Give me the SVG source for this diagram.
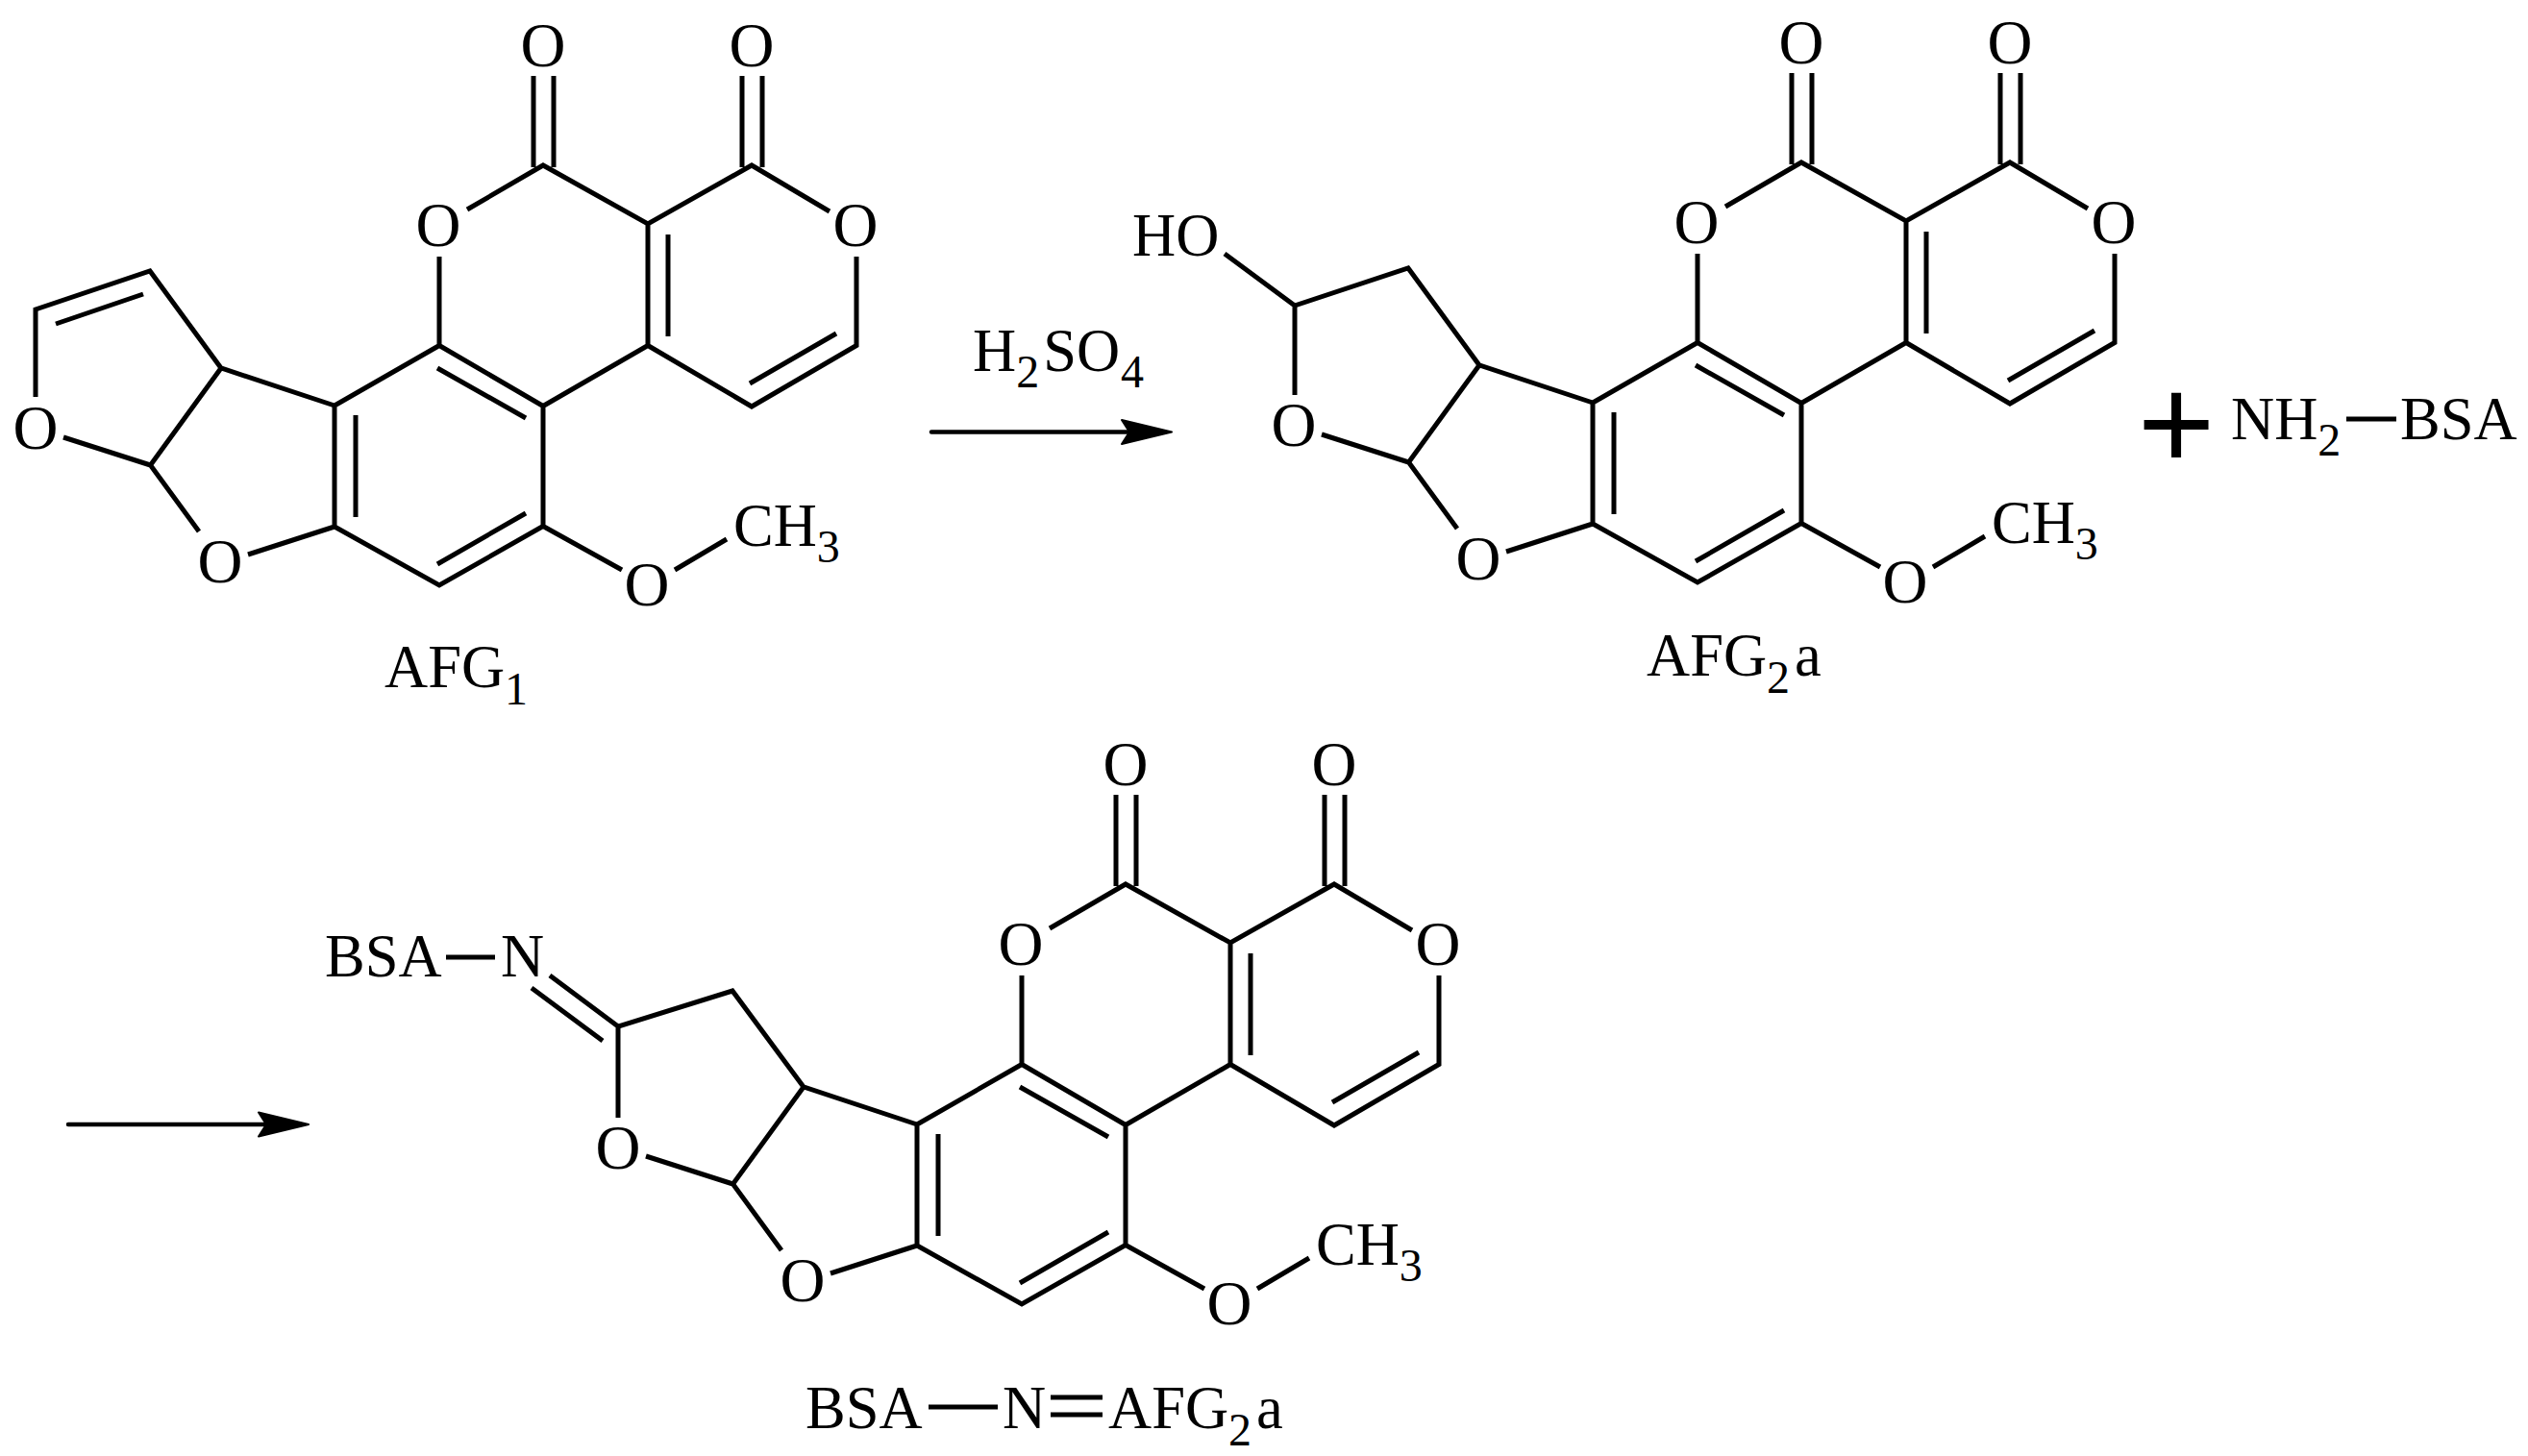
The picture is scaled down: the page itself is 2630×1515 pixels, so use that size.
<svg xmlns="http://www.w3.org/2000/svg" width="2630" height="1515" viewBox="0 0 2630 1515">
<style>
text{font-family:"Liberation Serif","Times New Roman",serif;font-size:62.500px;fill:#000}
.m{text-anchor:middle;font-size:65px}
.s{font-size:48px}
.b{fill:none;stroke:#000;stroke-width:5;stroke-linejoin:miter;stroke-linecap:butt}
.a{fill:none;stroke:#000;stroke-width:4.500;stroke-linecap:round}
</style>
<defs>
<marker id="ah" markerUnits="userSpaceOnUse" markerWidth="64" markerHeight="40" refX="34" refY="20" orient="auto">
<path d="M1 7.500L53 20L1 32.500L9 20Z" fill="#000" stroke="#000" stroke-width="2" stroke-linejoin="round"/>
</marker>
</defs>
<rect width="2630" height="1515" fill="#fff"/>

<g id="afg1">
<path class="b" d="M486 218L565 172L674 233L782 172L863 220M555 79V174M576 79V174M772 79V174M793 79V174M674 233V359.500L565 422.500M695 244V350M457 267V359.500L565 422.500M457 359.500L348 422V548L457 609L565 547.500V422.500M455 383L547 435M370 432V538M547 534L455 587M674 359.500L782 423L891 359.500V267M870 347L780 399M565 547.500L647 593M702 593L756 561M258 577L348 548M348 422L230 383L156.500 484L207 553M66 455L156.500 484M230 383L156 282L37 322V413M149 306L58 337"/>
<text class="m" x="565" y="69">O</text>
<text class="m" x="782" y="69">O</text>
<text class="m" x="456" y="256">O</text>
<text class="m" x="890" y="256">O</text>
<text class="m" x="37" y="467">O</text>
<text class="m" x="229" y="606">O</text>
<text class="m" x="673" y="630">O</text>
<text x="763" y="568">CH<tspan class="s" dy="17">3</tspan></text>
<text x="400" y="715">AFG<tspan class="s" dy="18">1</tspan></text>
</g>

<g id="afg2a" transform="translate(1309,-3)">
<path class="b" d="M486 218L565 172L674 233L782 172L863 220M555 79V174M576 79V174M772 79V174M793 79V174M674 233V359.500L565 422.500M695 244V350M457 267V359.500L565 422.500M457 359.500L348 422V548L457 609L565 547.500V422.500M455 383L547 435M370 432V538M547 534L455 587M674 359.500L782 423L891 359.500V267M870 347L780 399M565 547.500L647 593M702 593L756 561M258 577L348 548M348 422L230 383L156.500 484L207 553M66 455L156.500 484M230 383L156 282L38 321V414M-35 267L38 321"/>
<text class="m" x="565" y="69">O</text>
<text class="m" x="782" y="69">O</text>
<text class="m" x="456" y="256">O</text>
<text class="m" x="890" y="256">O</text>
<text class="m" x="37" y="467">O</text>
<text class="m" x="229" y="606">O</text>
<text class="m" x="673" y="630">O</text>
<text x="-131" y="269">HO</text>
<text x="763" y="568">CH<tspan class="s" dy="17">3</tspan></text>
<text x="404" y="706">AFG<tspan class="s" dy="18">2</tspan><tspan dy="-18" dx="5">a</tspan></text>
</g>

<g id="bsa-n-afg2a" transform="translate(606,748)">
<path class="b" d="M486 218L565 172L674 233L782 172L863 220M555 79V174M576 79V174M772 79V174M793 79V174M674 233V359.500L565 422.500M695 244V350M457 267V359.500L565 422.500M457 359.500L348 422V548L457 609L565 547.500V422.500M455 383L547 435M370 432V538M547 534L455 587M674 359.500L782 423L891 359.500V267M870 347L780 399M565 547.500L647 593M702 593L756 561M258 577L348 548M348 422L230 383L156.500 484L207 553M66 455L156.500 484M230 383L156 283L37 320V415M-34 267L37 320M-53 280L21 335M-142 248H-91"/>
<text class="m" x="565" y="69">O</text>
<text class="m" x="782" y="69">O</text>
<text class="m" x="456" y="256">O</text>
<text class="m" x="890" y="256">O</text>
<text class="m" x="37" y="468">O</text>
<text class="m" x="229" y="606">O</text>
<text class="m" x="673" y="630">O</text>
<text x="-268" y="268">BSA</text>
<text x="-85" y="268">N</text>
<text x="763" y="568">CH<tspan class="s" dy="17">3</tspan></text>
</g>

<g id="reagents">
<text x="1012" y="386">H<tspan class="s" dy="17">2</tspan><tspan dy="-17" dx="4">SO</tspan><tspan class="s" dy="17" dx="1">4</tspan></text>
<text id="plus" x="2223" y="489.500" style="font-size:144px;font-weight:bold">+</text>
<text x="2321" y="457">NH<tspan class="s" dy="17">2</tspan></text>
<text x="2497" y="457">BSA</text>
<path class="b" d="M2441 436H2493"/>
</g>

<g id="label-conjugate">
<text x="838" y="1486">BSA</text>
<path class="b" d="M966 1464H1038M1093 1454H1147M1093 1472H1147"/>
<text x="1043" y="1486">N</text>
<text x="1153" y="1486">AFG<tspan class="s" dy="18">2</tspan><tspan dy="-18" dx="5">a</tspan></text>
</g>

<g id="connectors">
<line class="a" x1="969" y1="449.500" x2="1200" y2="449.500" marker-end="url(#ah)"/>
<line class="a" x1="71" y1="1170" x2="302" y2="1170" marker-end="url(#ah)"/>
</g>
</svg>
